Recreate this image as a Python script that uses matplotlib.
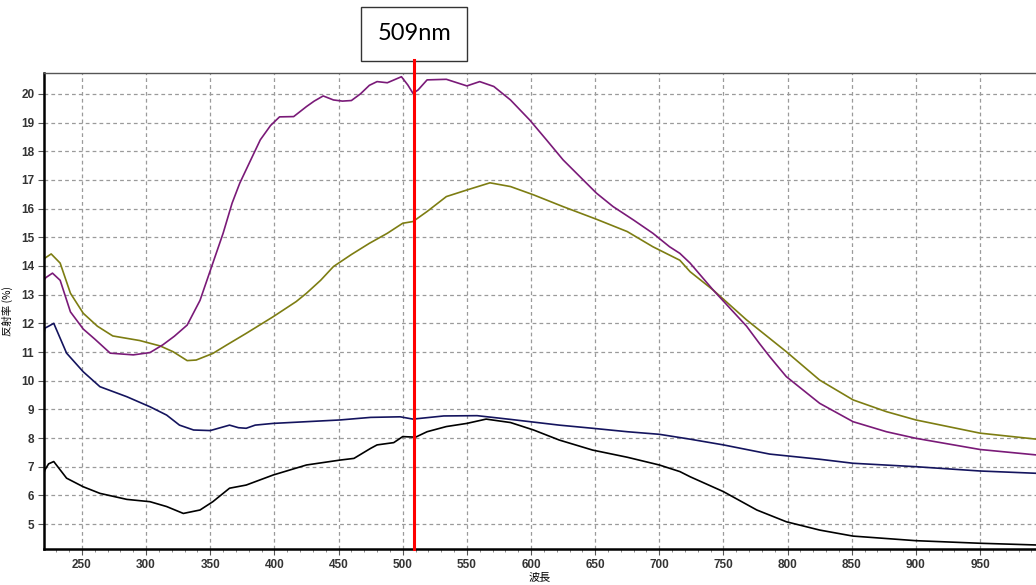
import matplotlib
matplotlib.use("Agg")
import numpy as np
import matplotlib.pyplot as plt
from matplotlib.ticker import MultipleLocator

# ===== dados =====
wl_roxo = [220, 222, 227, 233, 241, 251, 260, 272, 290, 303, 313, 322, 332, 342, 352, 360,
           367, 373, 384, 389, 397, 404, 415, 425, 431, 438, 446, 453, 460, 467, 474, 480,
           488, 499, 504, 508, 512, 519, 534, 550, 560, 571, 584, 599, 612, 625, 638, 651,
           664, 680, 695, 708, 716, 724, 742, 768, 778, 786, 799, 825, 851, 877, 900, 950, 994]
r_roxo = [13.5, 13.6, 13.75, 13.5, 12.4, 11.8, 11.45, 10.96, 10.9, 10.98, 11.25, 11.55, 11.94,
          12.8, 14.1, 15.14, 16.19, 16.89, 17.93, 18.4, 18.9, 19.2, 19.21, 19.56, 19.75, 19.93,
          19.79, 19.75, 19.77, 20.0, 20.3, 20.43, 20.39, 20.6, 20.31, 20.02, 20.14, 20.49, 20.51,
          20.28, 20.43, 20.26, 19.79, 19.09, 18.4, 17.7, 17.12, 16.54, 16.07, 15.6, 15.14, 14.67,
          14.44, 14.1, 13.16, 11.9, 11.3, 10.84, 10.14, 9.21, 8.57, 8.22, 7.99, 7.6, 7.41]

wl_oliva = [220, 221, 226, 233, 241, 251, 262, 274, 295, 311, 321, 332, 339, 352, 363, 378,
            399, 417, 425, 436, 446, 460, 474, 488, 500, 508, 519, 534, 550, 568, 584, 602,
            625, 651, 675, 695, 716, 724, 742, 768, 799, 825, 851, 877, 900, 950, 994]
r_oliva = [14.2, 14.27, 14.42, 14.1, 13.05, 12.35, 11.9, 11.56, 11.4, 11.21, 11.01, 10.7, 10.72,
           10.95, 11.25, 11.65, 12.23, 12.76, 13.05, 13.5, 13.98, 14.4, 14.79, 15.14, 15.49, 15.55,
           15.9, 16.42, 16.65, 16.9, 16.77, 16.48, 16.07, 15.63, 15.2, 14.67, 14.2, 13.8, 13.16,
           12.12, 11.01, 10.02, 9.33, 8.92, 8.63, 8.17, 7.96]

wl_azul = [220, 221, 224, 228, 238, 251, 264, 285, 303, 316, 326, 337, 350, 365, 372, 378, 385,
           399, 425, 451, 475, 498, 508, 532, 558, 584, 622, 648, 675, 700, 724, 750, 786, 825,
           851, 900, 950, 994]
r_azul = [11.5, 11.83, 11.9, 12.0, 10.96, 10.31, 9.79, 9.44, 9.09, 8.8, 8.45, 8.28, 8.26, 8.45,
          8.36, 8.34, 8.45, 8.51, 8.57, 8.63, 8.72, 8.74, 8.66, 8.77, 8.78, 8.65, 8.45, 8.34, 8.22,
          8.13, 7.96, 7.76, 7.44, 7.26, 7.12, 7.0, 6.85, 6.77]

wl_preto = [220, 221, 224, 228, 238, 251, 264, 285, 303, 316, 329, 342, 352, 365, 378, 399, 425,
            451, 462, 475, 480, 493, 500, 510, 519, 534, 550, 565, 584, 602, 622, 648, 675, 700,
            716, 724, 750, 776, 799, 825, 851, 900, 950, 994]
r_preto = [6.7, 6.88, 7.1, 7.18, 6.6, 6.3, 6.07, 5.86, 5.78, 5.61, 5.37, 5.49, 5.78, 6.25, 6.36,
           6.71, 7.06, 7.23, 7.29, 7.64, 7.76, 7.84, 8.05, 8.03, 8.22, 8.4, 8.51, 8.66, 8.54, 8.28,
           7.93, 7.58, 7.33, 7.06, 6.83, 6.65, 6.13, 5.49, 5.08, 4.79, 4.58, 4.42, 4.33, 4.27]

marcador = 509
xticks = [250, 300, 350, 400, 450, 500, 550, 600, 650, 700, 750, 800, 850, 900, 950]
yticks = [5, 6, 7, 8, 9, 10, 11, 12, 13, 14, 15, 16, 17, 18, 19, 20]

# ===== figura =====
fig = plt.figure(figsize=(10.36, 5.85), dpi=100)
ax = fig.add_axes([44 / 1036, 36 / 585, 1 - 44 / 1036, 476 / 585])

ax.plot(wl_oliva, r_oliva, color="#7d7d12", linewidth=1.2)
ax.plot(wl_roxo, r_roxo, color="#7a1a78", linewidth=1.2)
ax.plot(wl_azul, r_azul, color="#14145e", linewidth=1.2)
ax.plot(wl_preto, r_preto, color="black", linewidth=1.2)

ax.set_xlim(220.4, 993.6)
ax.set_ylim(4.13, 20.73)
ax.set_xticks(xticks)
ax.set_yticks(yticks)
ax.xaxis.set_minor_locator(MultipleLocator(10))
ax.grid(True, which="major", color="#9a9a9a", linestyle=(0, (3, 2.5)), linewidth=0.9)

for lbl in ax.get_xticklabels() + ax.get_yticklabels():
    lbl.set_fontfamily("Liberation Sans")
    lbl.set_fontweight("bold")
    lbl.set_fontsize(8.5)
    lbl.set_color("#333333")
ax.tick_params(axis="both", which="major", length=4, width=0.8, color="#555555", pad=3)
ax.tick_params(axis="x", which="minor", length=2.5, width=0.6, color="#777777")

ax.spines["left"].set_linewidth(1.8)
ax.spines["bottom"].set_linewidth(1.8)
ax.spines["top"].set_color("#555555")
ax.spines["top"].set_linewidth(1.0)
ax.spines["right"].set_visible(False)

ax.set_xlabel("波長", fontfamily=["Noto Sans CJK JP", "DejaVu Sans"], fontsize=8, labelpad=1)
ax.set_ylabel("反射率 (%)", fontfamily=["Noto Sans CJK JP", "DejaVu Sans"], fontsize=7.5, labelpad=6)

# linha vermelha + caixa do marcador
ax.axvline(marcador, ymin=0, ymax=(549 - 60) / 476, color="red", linewidth=2.2, clip_on=False, zorder=5)
ax.text(marcador, 20.73 + (73 - 34) / 28.67, f"{marcador}nm", ha="center", va="center",
        fontsize=17, fontfamily="Lato", clip_on=False,
        bbox=dict(boxstyle="square,pad=0.68", facecolor="white", edgecolor="#333333", linewidth=1.0))

fig.savefig("out.png", dpi=100)
